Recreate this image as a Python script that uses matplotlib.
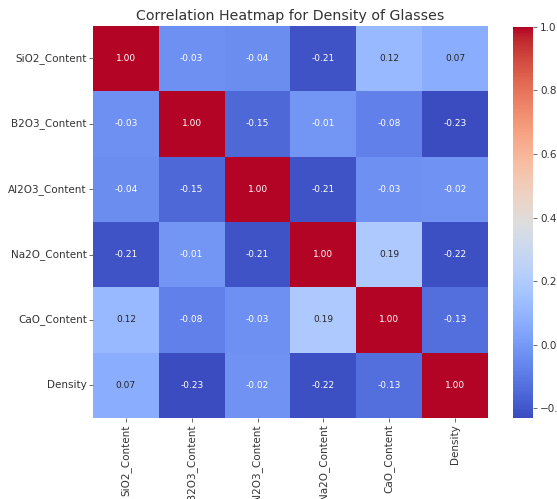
import numpy as np
import pandas as pd
import matplotlib
matplotlib.use("Agg")
import matplotlib.pyplot as plt
import seaborn as sns

# column / row names of the correlation matrix
features = ["SiO2_Content", "B2O3_Content", "Al2O3_Content", "Na2O_Content", "CaO_Content", "Density"]

# correlation values, row by row
sio2 = [1.00, -0.03, -0.04, -0.21, 0.12, 0.07]
b2o3 = [-0.03, 1.00, -0.15, -0.01, -0.08, -0.23]
al2o3 = [-0.04, -0.15, 1.00, -0.21, -0.03, -0.02]
na2o = [-0.21, -0.01, -0.21, 1.00, 0.19, -0.22]
cao = [0.12, -0.08, -0.03, 0.19, 1.00, -0.13]
density = [0.07, -0.23, -0.02, -0.22, -0.13, 1.00]

corr = pd.DataFrame([sio2, b2o3, al2o3, na2o, cao, density], index=features, columns=features)

text_color = "#333333"
plt.rcParams["text.color"] = text_color
plt.rcParams["axes.labelcolor"] = text_color
plt.rcParams["xtick.color"] = text_color
plt.rcParams["ytick.color"] = text_color

fig = plt.figure(figsize=(5.57, 4.99), dpi=100)
ax = fig.add_axes([0.167, 0.1623, 0.709, 0.786])
cax = fig.add_axes([0.921, 0.1623, 0.036, 0.784])

sns.heatmap(corr, annot=True, fmt=".2f", cmap="coolwarm", ax=ax, cbar_ax=cax,
            annot_kws={"size": 6.5})

ax.set_title("Correlation Heatmap for Density of Glasses", fontsize=10.2, color=text_color, pad=4)
ax.tick_params(axis="both", labelsize=7.5, length=3, width=0.6, pad=1.5, color="#555555")
ax.set_xticklabels(features, rotation=90)
ax.set_yticklabels(features, rotation=0)

cax.tick_params(labelsize=7.5, length=3, width=0.6, pad=2, color="#555555")
cax.set_yticks([-0.2, 0.0, 0.2, 0.4, 0.6, 0.8, 1.0])

fig.savefig("out.png", dpi=100)
